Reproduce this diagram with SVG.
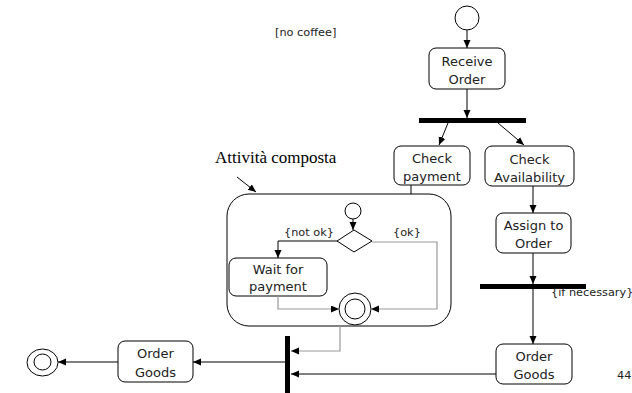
<svg xmlns="http://www.w3.org/2000/svg" width="632" height="393" viewBox="0 0 632 393">
<style>
.box{fill:#fff;stroke:#000;stroke-width:1}
.t{font-family:"DejaVu Sans",Verdana,sans-serif;font-size:13px;fill:#222;text-anchor:middle}
.s{font-family:"DejaVu Sans",Verdana,sans-serif;font-size:11.3px;fill:#222}
.c{fill:none;stroke:#000;stroke-width:1}
.g{fill:none;stroke:#999;stroke-width:1.2}
.bar{fill:#000}
</style>
<defs>
<marker id="a" markerUnits="userSpaceOnUse" markerWidth="9" markerHeight="8" refX="8" refY="3.5" orient="auto">
<path d="M0,0 L8,3.5 L0,7 z" fill="#000"/>
</marker>
</defs>
<rect width="632" height="393" fill="#fff"/>

<g id="composite">
<rect x="227" y="194" width="224" height="132" rx="22" class="box"/>
<text x="215" y="163" font-family="'Liberation Serif','Times New Roman',serif" font-size="17" fill="#000">Attività composta</text>
</g>
<g id="start"><circle cx="467" cy="18" r="12" class="box"/></g>
<g id="receive-order">
<rect x="429" y="48" width="76" height="41" rx="7" class="box"/>
<text class="t" x="467" y="66">Receive</text>
<text class="t" x="467" y="84">Order</text>
</g>
<g id="fork1"><rect x="419" y="118" width="107" height="5" class="bar"/></g>
<g id="check-payment">
<rect x="394" y="146" width="76" height="39" rx="7" class="box"/>
<text class="t" x="432" y="163">Check</text>
<text class="t" x="432" y="181">payment</text>
</g>
<g id="check-availability">
<rect x="485" y="146" width="89" height="40" rx="7" class="box"/>
<text class="t" x="529.5" y="164">Check</text>
<text class="t" x="529.5" y="182">Availability</text>
</g>
<g id="assign-to-order">
<rect x="496" y="213" width="75" height="40" rx="7" class="box"/>
<text class="t" x="533.5" y="230">Assign to</text>
<text class="t" x="533.5" y="248">Order</text>
</g>
<g id="join1"><rect x="480" y="284" width="106" height="5" class="bar"/></g>
<g id="order-goods-right">
<rect x="496" y="344" width="76" height="40" rx="7" class="box"/>
<text class="t" x="534" y="361">Order</text>
<text class="t" x="534" y="379">Goods</text>
</g>
<g id="inner-start"><circle cx="353" cy="211" r="8" class="box"/></g>
<g id="decision"><path d="M337,241 L354,230 L372,241 L354,252 Z" class="box"/></g>
<g id="wait-for-payment">
<rect x="229" y="258" width="98" height="38" rx="7" class="box"/>
<text class="t" x="278" y="274">Wait for</text>
<text class="t" x="278" y="291">payment</text>
</g>
<g id="inner-final">
<circle cx="355" cy="309" r="16" class="box"/>
<circle cx="355" cy="309" r="10" class="box"/>
</g>
<g id="join2"><rect x="285" y="336" width="5" height="57" class="bar"/></g>
<g id="order-goods-left">
<rect x="118" y="341" width="75" height="41" rx="7" class="box"/>
<text class="t" x="155.5" y="358">Order</text>
<text class="t" x="155.5" y="377">Goods</text>
</g>
<g id="final">
<ellipse cx="42.5" cy="362.5" rx="15.5" ry="13.5" class="box"/>
<ellipse cx="42.5" cy="362" rx="8.5" ry="8" class="box"/>
</g>
<g id="labels">
<text class="s" x="275" y="36">[no coffee]</text>
<text class="s" x="284" y="236">{not ok}</text>
<text class="s" x="393" y="236">{ok}</text>
<text class="s" x="551" y="296">{if necessary}</text>
<text class="s" x="617" y="379">44</text>
</g>

<g id="connectors">
<path class="c" d="M467,30 V48" marker-end="url(#a)"/>
<path class="c" d="M467,89 V118" marker-end="url(#a)"/>
<path class="c" d="M448,123 L439,145" marker-end="url(#a)"/>
<path class="c" d="M498,123 L524,145" marker-end="url(#a)"/>
<path class="c" d="M411,185 V194"/>
<path class="c" d="M533,186 V213" marker-end="url(#a)"/>
<path class="c" d="M533,253 V284" marker-end="url(#a)"/>
<path class="c" d="M533,289 V344" marker-end="url(#a)"/>
<path class="c" d="M496,374 H291" marker-end="url(#a)"/>
<path class="g" d="M340,326 V351 H291" marker-end="url(#a)"/>
<path class="c" d="M285,362 H193" marker-end="url(#a)"/>
<path class="c" d="M118,362 H58" marker-end="url(#a)"/>
<path class="c" d="M353,219 V230" marker-end="url(#a)"/>
<path class="c" d="M337,241 H278 V258" marker-end="url(#a)"/>
<path class="g" d="M372,242 H437 V309 H371" marker-end="url(#a)"/>
<path class="g" d="M278,296 V309 H339" marker-end="url(#a)"/>
<path class="c" d="M237,177 L256,192" stroke-width="0.8" marker-end="url(#a)"/>
</g>
</svg>
